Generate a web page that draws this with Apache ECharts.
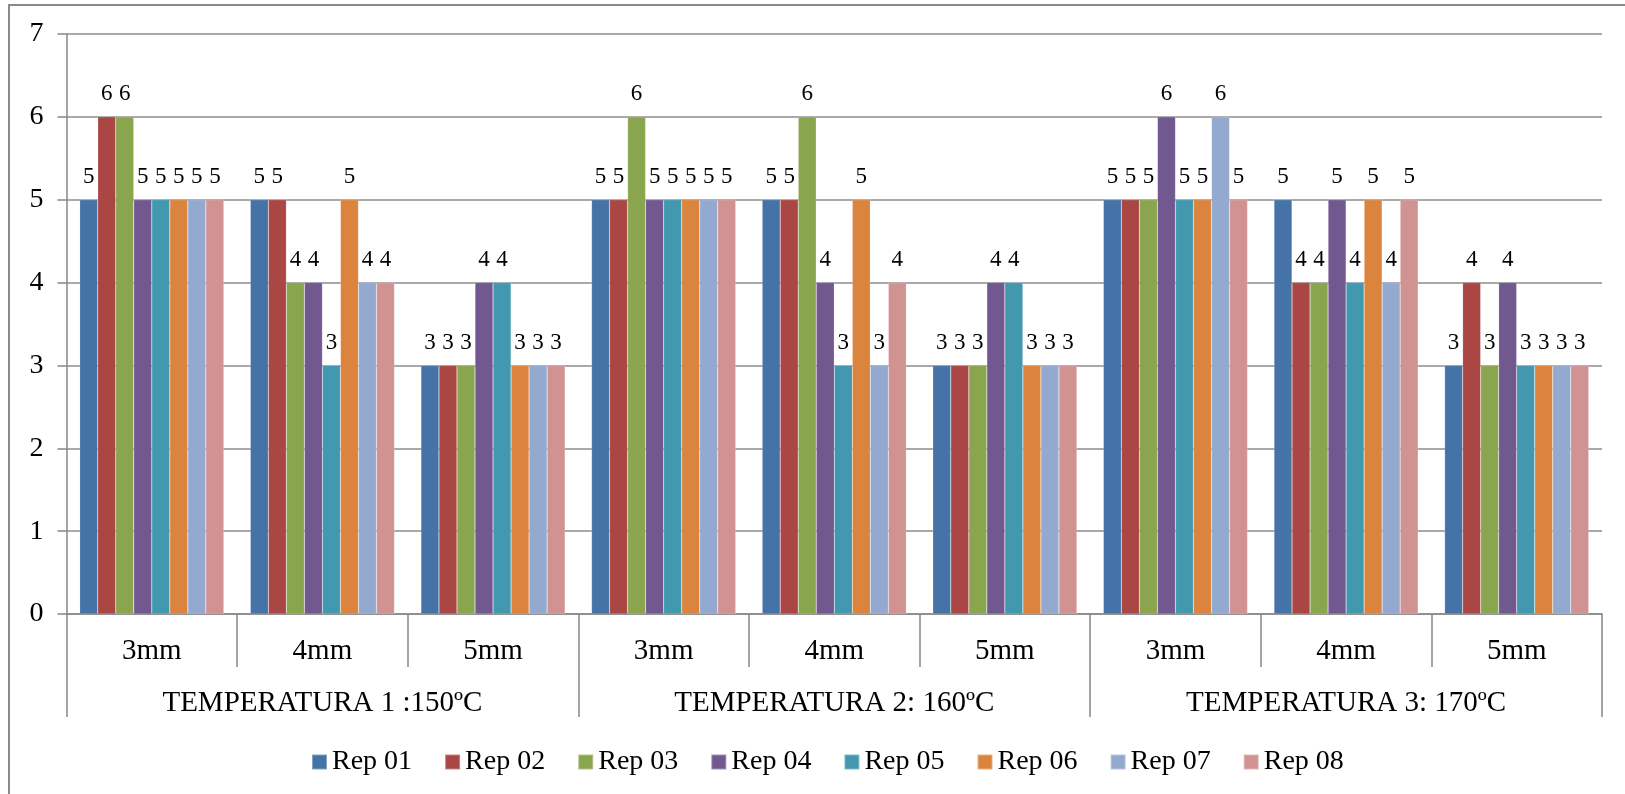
<!DOCTYPE html>
<html><head><meta charset="utf-8">
<script src="https://cdn.jsdelivr.net/npm/echarts@6/dist/echarts.min.js"></script>
<style>html,body{margin:0;padding:0;background:#fff}#c{width:1625px;height:794px}</style>
</head><body><div id="c"></div>
<script>
const sizes = ['3mm','4mm','5mm','3mm','4mm','5mm','3mm','4mm','5mm'];
const temps = ['TEMPERATURA 1 :150ºC','TEMPERATURA 2: 160ºC','TEMPERATURA 3: 170ºC'];
const seriesNames = ['Rep 01','Rep 02','Rep 03','Rep 04','Rep 05','Rep 06','Rep 07','Rep 08'];
const rep01 = [5,5,3,5,5,3,5,5,3];
const rep02 = [6,5,3,5,5,3,5,4,4];
const rep03 = [6,4,3,6,6,3,5,4,3];
const rep04 = [5,4,4,5,4,4,6,5,4];
const rep05 = [5,3,4,5,3,4,5,4,3];
const rep06 = [5,5,3,5,5,3,5,5,3];
const rep07 = [5,4,3,5,3,3,6,4,3];
const rep08 = [5,4,3,5,4,3,5,5,3];
const yTicks = [0,1,2,3,4,5,6,7];
const colors = ['#4572A7','#AA4643','#89A54E','#71588F','#4198AF','#DB843D','#93A9CF','#D19392'];
const values = [rep01,rep02,rep03,rep04,rep05,rep06,rep07,rep08];
const font = '"Liberation Serif", "Times New Roman", serif';

const chart = echarts.init(document.getElementById('c'), null, {renderer:'canvas'});
chart.setOption({
  animation:false,
  color: colors,
  textStyle:{fontFamily:font},
  graphic:[{type:'rect', shape:{x:9,y:5,width:1640,height:800}, style:{fill:'none', stroke:'#8a8a8a', lineWidth:2}, silent:true}],
  grid:{left:66.5, right:23, top:34, bottom:180},
  legend:{
    data: seriesNames, top:743, left:306, itemWidth:15, itemHeight:15, itemGap:32,
    icon:'rect', textStyle:{fontFamily:font, fontSize:28, color:'#000'}
  },
  xAxis:[{
    type:'category', data:sizes, position:'bottom',
    axisLine:{show:true, lineStyle:{color:'#868686', width:1.5}},
    axisTick:{show:true, length:53, interval:0, lineStyle:{color:'#868686', width:1.5}},
    axisLabel:{margin:23, fontFamily:font, fontSize:29, color:'#000', interval:0}
  },{
    type:'category', data:temps, position:'bottom',
    axisLine:{show:false},
    axisTick:{show:true, length:103, interval:0, lineStyle:{color:'#868686', width:1.5}},
    axisLabel:{margin:75, fontFamily:font, fontSize:29, color:'#000', interval:0}
  }],
  yAxis:{
    type:'value', min:yTicks[0], max:yTicks[yTicks.length-1], interval:1,
    axisLine:{show:true, lineStyle:{color:'#868686', width:1.5}},
    axisTick:{show:true, length:9, lineStyle:{color:'#868686', width:1.5}},
    splitLine:{show:true, lineStyle:{color:'#8c8c8c', width:1.5}},
    axisLabel:{margin:23, fontFamily:font, fontSize:28, color:'#000'}
  },
  series: seriesNames.map((n,i)=>({
    name:n, type:'bar', data:values[i], xAxisIndex:0,
    barGap:'0%', barCategoryGap:'15.5%',
    itemStyle:{color:colors[i], borderColor:'rgba(255,255,255,0.35)', borderWidth:0.5},
    label:{show:true, position:'top', distance:11, fontFamily:font, fontSize:23, color:'#000'}
  }))
});
</script></body></html>
